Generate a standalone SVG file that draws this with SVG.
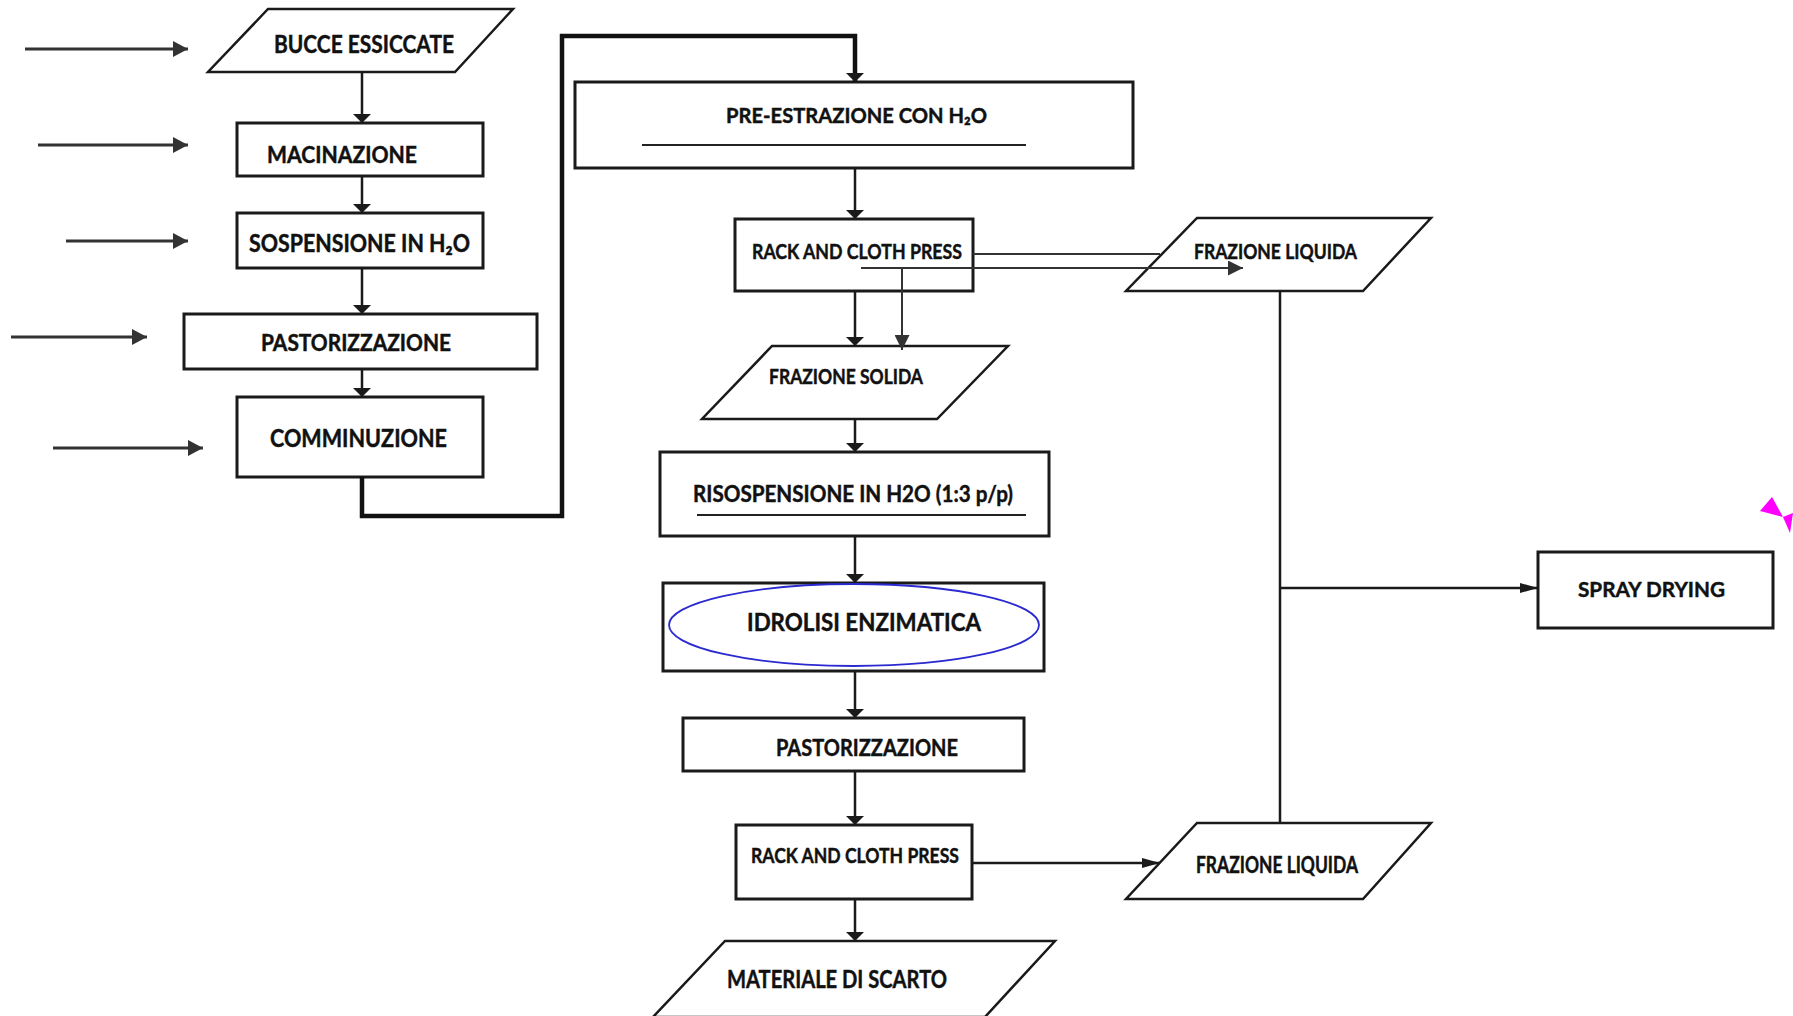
<svg xmlns="http://www.w3.org/2000/svg" width="1793" height="1016" viewBox="0 0 1793 1016">
  <style>
    .box { fill: #fff; stroke: #1a1a1a; stroke-width: 3; }
    .io { fill: #fff; stroke: #1a1a1a; stroke-width: 2.5; stroke-linejoin: miter; }
    .t { font-family: Lato, "Open Sans", "Liberation Sans", "DejaVu Sans", sans-serif; font-weight: 700; fill: #111; stroke: #111; stroke-width: 0.45; }
    .c { fill: none; stroke: #1a1a1a; stroke-width: 2.5; }
    .in { fill: none; stroke: #333; stroke-width: 3; }
    .thin { fill: none; stroke: #333; stroke-width: 2; }
    .rule { stroke: #222; stroke-width: 1.8; }
  </style>
  <defs>
    <marker id="down" viewBox="0 0 10 10" refX="10" refY="5" markerWidth="9" markerHeight="18" markerUnits="userSpaceOnUse" orient="auto" preserveAspectRatio="none">
      <path d="M0,0 L10,5 L0,10 z" fill="#1a1a1a"/>
    </marker>
    <marker id="inlet" viewBox="0 0 10 10" refX="10" refY="5" markerWidth="15" markerHeight="16" markerUnits="userSpaceOnUse" orient="auto" preserveAspectRatio="none">
      <path d="M0,0 L10,5 L0,10 z" fill="#333"/>
    </marker>
    <marker id="mid" viewBox="0 0 10 10" refX="10" refY="5" markerWidth="15" markerHeight="15" markerUnits="userSpaceOnUse" orient="auto" preserveAspectRatio="none">
      <path d="M0,0 L10,5 L0,10 z" fill="#333"/>
    </marker>
    <marker id="slim" viewBox="0 0 10 10" refX="10" refY="5" markerWidth="18" markerHeight="10" markerUnits="userSpaceOnUse" orient="auto" preserveAspectRatio="none">
      <path d="M0,0 L10,5 L0,10 z" fill="#1a1a1a"/>
    </marker>
  </defs>

  <rect width="1793" height="1016" fill="#fff"/>

  <!-- left column nodes -->
  <g id="bucce-essiccate">
    <polygon class="io" points="268,9 513,9 455,72 208,72"/>
    <text class="t" x="274" y="53" font-size="24" textLength="180" lengthAdjust="spacingAndGlyphs">BUCCE ESSICCATE</text>
  </g>
  <g id="macinazione">
    <rect class="box" x="237" y="123" width="246" height="53"/>
    <text class="t" x="267" y="163" font-size="23" textLength="150" lengthAdjust="spacingAndGlyphs">MACINAZIONE</text>
  </g>
  <g id="sospensione">
    <rect class="box" x="237" y="213" width="246" height="55"/>
    <text class="t" x="249" y="252" font-size="24" textLength="221" lengthAdjust="spacingAndGlyphs">SOSPENSIONE IN H₂O</text>
  </g>
  <g id="pastorizzazione-1">
    <rect class="box" x="184" y="314" width="353" height="55" stroke-width="2.5"/>
    <text class="t" x="261" y="351" font-size="23" textLength="190" lengthAdjust="spacingAndGlyphs">PASTORIZZAZIONE</text>
  </g>
  <g id="comminuzione">
    <rect class="box" x="237" y="397" width="246" height="80"/>
    <text class="t" x="270" y="447" font-size="24" textLength="177" lengthAdjust="spacingAndGlyphs">COMMINUZIONE</text>
  </g>

  <!-- central column nodes -->
  <g id="pre-estrazione">
    <rect class="box" x="575" y="82" width="558" height="86" stroke-width="2.5"/>
    <text class="t" x="726" y="123" font-size="21" textLength="261" lengthAdjust="spacingAndGlyphs">PRE-ESTRAZIONE CON H₂O</text>
    <line class="rule" x1="642" y1="145" x2="1026" y2="145"/>
  </g>
  <g id="rack-press-1">
    <rect class="box" x="735" y="219" width="238" height="72"/>
    <text class="t" x="752" y="259" font-size="21" textLength="210" lengthAdjust="spacingAndGlyphs">RACK AND CLOTH PRESS</text>
  </g>
  <g id="frazione-solida">
    <polygon class="io" points="772,346 1008,346 937,419 702,419"/>
    <text class="t" x="769" y="384" font-size="20" textLength="154" lengthAdjust="spacingAndGlyphs">FRAZIONE SOLIDA</text>
  </g>
  <g id="risospensione">
    <rect class="box" x="660" y="452" width="389" height="84"/>
    <text class="t" x="693" y="502" font-size="23" textLength="320" lengthAdjust="spacingAndGlyphs">RISOSPENSIONE IN H2O (1:3 p/p)</text>
    <line class="rule" x1="697" y1="515" x2="1026" y2="515"/>
  </g>
  <g id="idrolisi-enzimatica">
    <rect class="box" x="663" y="583" width="381" height="88" stroke-width="3.5"/>
    <ellipse cx="854" cy="625" rx="185" ry="41" fill="none" stroke="#2a2ad0" stroke-width="1.8"/>
    <text class="t" x="747" y="631" font-size="25" textLength="234" lengthAdjust="spacingAndGlyphs">IDROLISI ENZIMATICA</text>
  </g>
  <g id="pastorizzazione-2">
    <rect class="box" x="683" y="718" width="341" height="53" stroke-width="2.5"/>
    <text class="t" x="776" y="756" font-size="23" textLength="182" lengthAdjust="spacingAndGlyphs">PASTORIZZAZIONE</text>
  </g>
  <g id="rack-press-2">
    <rect class="box" x="736" y="825" width="236" height="74"/>
    <text class="t" x="751" y="863" font-size="21" textLength="208" lengthAdjust="spacingAndGlyphs">RACK AND CLOTH PRESS</text>
  </g>
  <g id="materiale-di-scarto">
    <polygon class="io" points="725,941 1055,941 985,1017 653,1017"/>
    <text class="t" x="727" y="988" font-size="24" textLength="220" lengthAdjust="spacingAndGlyphs">MATERIALE DI SCARTO</text>
  </g>

  <!-- right side nodes -->
  <g id="frazione-liquida-1">
    <polygon class="io" points="1197,218 1431,218 1363,291 1126,291"/>
    <text class="t" x="1194" y="259" font-size="21" textLength="163" lengthAdjust="spacingAndGlyphs">FRAZIONE LIQUIDA</text>
  </g>
  <g id="frazione-liquida-2">
    <polygon class="io" points="1197,823 1431,823 1363,899 1126,899"/>
    <text class="t" x="1196" y="873" font-size="22" textLength="162" lengthAdjust="spacingAndGlyphs">FRAZIONE LIQUIDA</text>
  </g>
  <g id="spray-drying">
    <rect class="box" x="1538" y="552" width="235" height="76"/>
    <text class="t" x="1578" y="597" font-size="21" textLength="147" lengthAdjust="spacingAndGlyphs">SPRAY DRYING</text>
  </g>

  <!-- magenta handle mark at the right edge -->
  <g id="handle">
    <polygon points="1760,511 1772,497 1783,517" fill="#ff00ff"/>
    <polygon points="1783,517 1793,513 1790,533" fill="#ff00ff"/>
  </g>

  <!-- connectors (drawn over the shapes) -->
  <g id="connectors">
    <!-- inlet arrows on the left -->
    <line class="in" x1="25" y1="49" x2="188" y2="49" marker-end="url(#inlet)"/>
    <line class="in" x1="38" y1="145" x2="188" y2="145" marker-end="url(#inlet)"/>
    <line class="in" x1="66" y1="241" x2="188" y2="241" marker-end="url(#inlet)"/>
    <line class="in" x1="11" y1="337" x2="147" y2="337" marker-end="url(#inlet)"/>
    <line class="in" x1="53" y1="448" x2="203" y2="448" marker-end="url(#inlet)"/>

    <!-- left column -->
    <line class="c" x1="362" y1="72" x2="362" y2="123" marker-end="url(#down)"/>
    <line class="c" x1="362" y1="176" x2="362" y2="213" marker-end="url(#down)"/>
    <line class="c" x1="362" y1="268" x2="362" y2="314" marker-end="url(#down)"/>
    <line class="c" x1="362" y1="369" x2="362" y2="397" marker-end="url(#down)"/>

    <!-- transfer to the extraction line -->
    <path d="M362,477 V516 H562 V36 H855 V82" fill="none" stroke="#111" stroke-width="4.5" stroke-linejoin="miter" marker-end="url(#down)"/>

    <!-- central column -->
    <line class="c" x1="855" y1="168" x2="855" y2="219" marker-end="url(#down)"/>
    <line class="c" x1="855" y1="291" x2="855" y2="346" marker-end="url(#down)"/>
    <line class="c" x1="855" y1="419" x2="855" y2="452" marker-end="url(#down)"/>
    <line class="c" x1="855" y1="536" x2="855" y2="583" marker-end="url(#down)"/>
    <line class="c" x1="855" y1="671" x2="855" y2="718" marker-end="url(#down)"/>
    <line class="c" x1="855" y1="771" x2="855" y2="825" marker-end="url(#down)"/>
    <line class="c" x1="855" y1="899" x2="855" y2="941" marker-end="url(#down)"/>

    <!-- first press outputs -->
    <line class="thin" x1="973" y1="254" x2="1160" y2="254"/>
    <line class="thin" x1="861" y1="268" x2="1243" y2="268" marker-end="url(#mid)"/>
    <line class="thin" x1="902" y1="268" x2="902" y2="350" marker-end="url(#mid)"/>

    <!-- second press to liquid fraction -->
    <line class="c" x1="972" y1="863" x2="1160" y2="863" marker-end="url(#slim)"/>

    <!-- liquid fractions collector to spray drying -->
    <line class="c" x1="1280" y1="291" x2="1280" y2="823"/>
    <line class="c" x1="1280" y1="588" x2="1538" y2="588" marker-end="url(#slim)"/>
  </g>
</svg>
